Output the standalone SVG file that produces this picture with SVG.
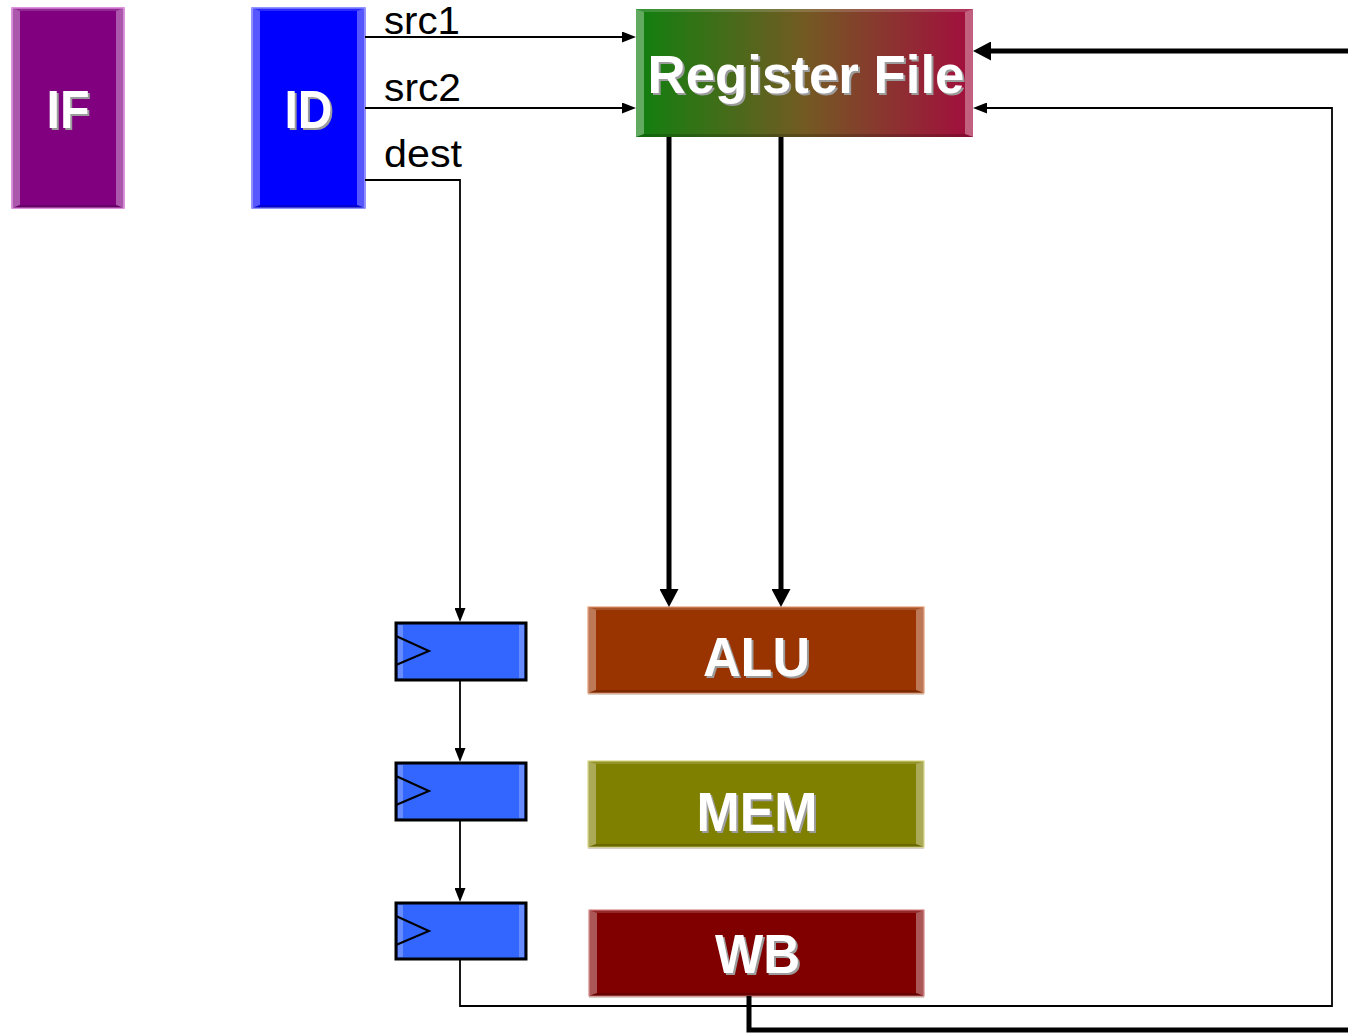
<svg xmlns="http://www.w3.org/2000/svg" width="1348" height="1034" viewBox="0 0 1348 1034">
  <defs>
    <linearGradient id="rfGrad" x1="0" y1="0" x2="1" y2="0">
      <stop offset="0" stop-color="#0f800f"/>
      <stop offset="0.5" stop-color="#735a22"/>
      <stop offset="1" stop-color="#a30d3e"/>
    </linearGradient>
    <marker id="arrowThin" markerUnits="userSpaceOnUse" markerWidth="14" markerHeight="11" refX="1" refY="5.5" orient="auto">
      <path d="M0,0 L14,5.5 L0,11 z" fill="#000"/>
    </marker>
    <marker id="arrowThick" markerUnits="userSpaceOnUse" markerWidth="18" markerHeight="19" refX="2" refY="9.5" orient="auto">
      <path d="M0,0 L18,9.5 L0,19 z" fill="#000"/>
    </marker>
  </defs>
  <style>
    .label { font-family: "Liberation Sans", Arial, sans-serif; font-weight: bold; text-anchor: middle; }
    .lbl-shadow { fill: #9c9c9c; }
    .lbl-main { fill: #ffffff; }
    .sig { font-family: "Liberation Sans", Arial, sans-serif; font-size: 39px; fill: #000; }
    .bev-side { fill: #ffffff; fill-opacity: 0.34; }
    .bev-top { fill: #ffffff; fill-opacity: 0.16; }
    .bev-bot { fill: #000000; fill-opacity: 0.18; }
    .edge-shadow { fill: #d8d0c8; }
    .thin { fill: none; stroke: #000; stroke-width: 1.8; }
    .thick { fill: none; stroke: #000; stroke-width: 5; }
    .reg { fill: #3366ff; stroke: #000; stroke-width: 3; }
    .reg-hi { fill: #ffffff; fill-opacity: 0.25; }
    .clk { fill: none; stroke: #000; stroke-width: 2; }
  </style>

  <rect width="1348" height="1034" fill="#ffffff"/>

  <!-- pipeline stage: instruction fetch -->
  <g id="node-if">
    <rect x="12" y="8" width="112" height="200" fill="#800080" stroke="#d070d0" stroke-width="1.5"/>
    <polygon class="bev-side" points="12,8 20,11 20,205 12,208"/>
    <polygon class="bev-side" points="124,8 116,11 116,205 124,208"/>
    <polygon class="bev-top" points="12,8 124,8 116,11 20,11"/>
    <polygon class="bev-bot" points="12,208 124,208 116,205 20,205"/>
    <text class="label lbl-shadow" x="70" y="130" font-size="53" textLength="43" lengthAdjust="spacingAndGlyphs">IF</text>
    <text class="label lbl-main" x="68" y="128" font-size="53" textLength="43" lengthAdjust="spacingAndGlyphs">IF</text>
  </g>

  <!-- pipeline stage: instruction decode -->
  <g id="node-id">
    <rect x="252" y="8" width="113" height="200" fill="#0000ff" stroke="#7070ff" stroke-width="1.5"/>
    <polygon class="bev-side" points="252,8 260,11 260,205 252,208"/>
    <polygon class="bev-side" points="365,8 357,11 357,205 365,208"/>
    <polygon class="bev-top" points="252,8 365,8 357,11 260,11"/>
    <polygon class="bev-bot" points="252,208 365,208 357,205 260,205"/>
    <text class="label lbl-shadow" x="310.5" y="130" font-size="53" textLength="48" lengthAdjust="spacingAndGlyphs">ID</text>
    <text class="label lbl-main" x="308.5" y="128" font-size="53" textLength="48" lengthAdjust="spacingAndGlyphs">ID</text>
  </g>

  <!-- register file -->
  <g id="node-regfile">
    <rect x="636" y="9" width="337" height="128" fill="url(#rfGrad)"/>
    <polygon class="bev-side" points="636,9 644,12 644,134 636,137"/>
    <polygon class="bev-side" points="973,9 965,12 965,134 973,137"/>
    <polygon class="bev-top" points="636,9 973,9 965,12 644,12"/>
    <polygon class="bev-bot" points="636,137 973,137 965,134 644,134"/>
    <text class="label lbl-shadow" x="808" y="95" font-size="53" textLength="317" lengthAdjust="spacingAndGlyphs">Register File</text>
    <text class="label lbl-main" x="806" y="93" font-size="53" textLength="317" lengthAdjust="spacingAndGlyphs">Register File</text>
  </g>

  <!-- execute -->
  <g id="node-alu">
    <rect x="588" y="692" width="336" height="3" class="edge-shadow"/>
    <rect x="588" y="607" width="336" height="86" fill="#993300" stroke="#e0885a" stroke-width="1"/>
    <polygon class="bev-side" points="588,607 596,610 596,690 588,693"/>
    <polygon class="bev-side" points="924,607 916,610 916,690 924,693"/>
    <polygon class="bev-top" points="588,607 924,607 916,610 596,610"/>
    <polygon class="bev-bot" points="588,693 924,693 916,690 596,690"/>
    <text class="label lbl-shadow" x="758.5" y="678" font-size="56" textLength="107" lengthAdjust="spacingAndGlyphs">ALU</text>
    <text class="label lbl-main" x="756.5" y="676" font-size="56" textLength="107" lengthAdjust="spacingAndGlyphs">ALU</text>
  </g>

  <!-- memory access -->
  <g id="node-mem">
    <rect x="588" y="846" width="336" height="3" class="edge-shadow"/>
    <rect x="588" y="761" width="336" height="86" fill="#808000" stroke="#d0d070" stroke-width="1"/>
    <polygon class="bev-side" points="588,761 596,764 596,844 588,847"/>
    <polygon class="bev-side" points="924,761 916,764 916,844 924,847"/>
    <polygon class="bev-top" points="588,761 924,761 916,764 596,764"/>
    <polygon class="bev-bot" points="588,847 924,847 916,844 596,844"/>
    <text class="label lbl-shadow" x="759" y="833" font-size="56" textLength="121" lengthAdjust="spacingAndGlyphs">MEM</text>
    <text class="label lbl-main" x="757" y="831" font-size="56" textLength="121" lengthAdjust="spacingAndGlyphs">MEM</text>
  </g>

  <!-- write back -->
  <g id="node-wb">
    <rect x="589" y="995" width="335" height="3" class="edge-shadow"/>
    <rect x="589" y="910" width="335" height="86" fill="#800000" stroke="#d07070" stroke-width="1"/>
    <polygon class="bev-side" points="589,910 597,913 597,993 589,996"/>
    <polygon class="bev-side" points="924,910 916,913 916,993 924,996"/>
    <polygon class="bev-top" points="589,910 924,910 916,913 597,913"/>
    <polygon class="bev-bot" points="589,996 924,996 916,993 597,993"/>
    <text class="label lbl-shadow" x="759.5" y="975" font-size="56" textLength="85" lengthAdjust="spacingAndGlyphs">WB</text>
    <text class="label lbl-main" x="757.5" y="973" font-size="56" textLength="85" lengthAdjust="spacingAndGlyphs">WB</text>
  </g>

  <!-- destination register pipeline latches -->
  <g id="node-latch1">
    <rect class="reg" x="396" y="623" width="130" height="57"/>
    <rect class="reg-hi" x="398" y="625" width="5" height="53"/>
    <rect class="reg-hi" x="519" y="625" width="5" height="53"/>
    <polyline class="clk" points="396,636 429,651 396,665"/>
  </g>
  <g id="node-latch2">
    <rect class="reg" x="396" y="763" width="130" height="57"/>
    <rect class="reg-hi" x="398" y="765" width="5" height="53"/>
    <rect class="reg-hi" x="519" y="765" width="5" height="53"/>
    <polyline class="clk" points="396,776 429,791 396,805"/>
  </g>
  <g id="node-latch3">
    <rect class="reg" x="396" y="903" width="130" height="56"/>
    <rect class="reg-hi" x="398" y="905" width="5" height="52"/>
    <rect class="reg-hi" x="519" y="905" width="5" height="52"/>
    <polyline class="clk" points="396,916 429,931 396,945"/>
  </g>

  <!-- signal names -->
  <g id="signal-labels">
    <text class="sig" x="384" y="34" textLength="76" lengthAdjust="spacingAndGlyphs">src1</text>
    <text class="sig" x="384" y="101" textLength="77" lengthAdjust="spacingAndGlyphs">src2</text>
    <text class="sig" x="384" y="167" textLength="78" lengthAdjust="spacingAndGlyphs">dest</text>
  </g>

  <!-- wiring -->
  <g id="connectors">
    <path class="thin" d="M365,37 H623" marker-end="url(#arrowThin)"/>
    <path class="thin" d="M365,108 H623" marker-end="url(#arrowThin)"/>
    <path class="thin" d="M365,180 H460 V609" marker-end="url(#arrowThin)"/>
    <path class="thin" d="M460,681 V749" marker-end="url(#arrowThin)"/>
    <path class="thin" d="M460,821 V889" marker-end="url(#arrowThin)"/>
    <path class="thin" d="M460,960 V1006 H1332 V108 H986" marker-end="url(#arrowThin)"/>
    <path class="thick" d="M1348,51 H989" marker-end="url(#arrowThick)"/>
    <path class="thick" d="M669,137 V591" marker-end="url(#arrowThick)"/>
    <path class="thick" d="M781,137 V591" marker-end="url(#arrowThick)"/>
    <path class="thick" d="M749,996 V1030 H1348"/>
  </g>
</svg>
